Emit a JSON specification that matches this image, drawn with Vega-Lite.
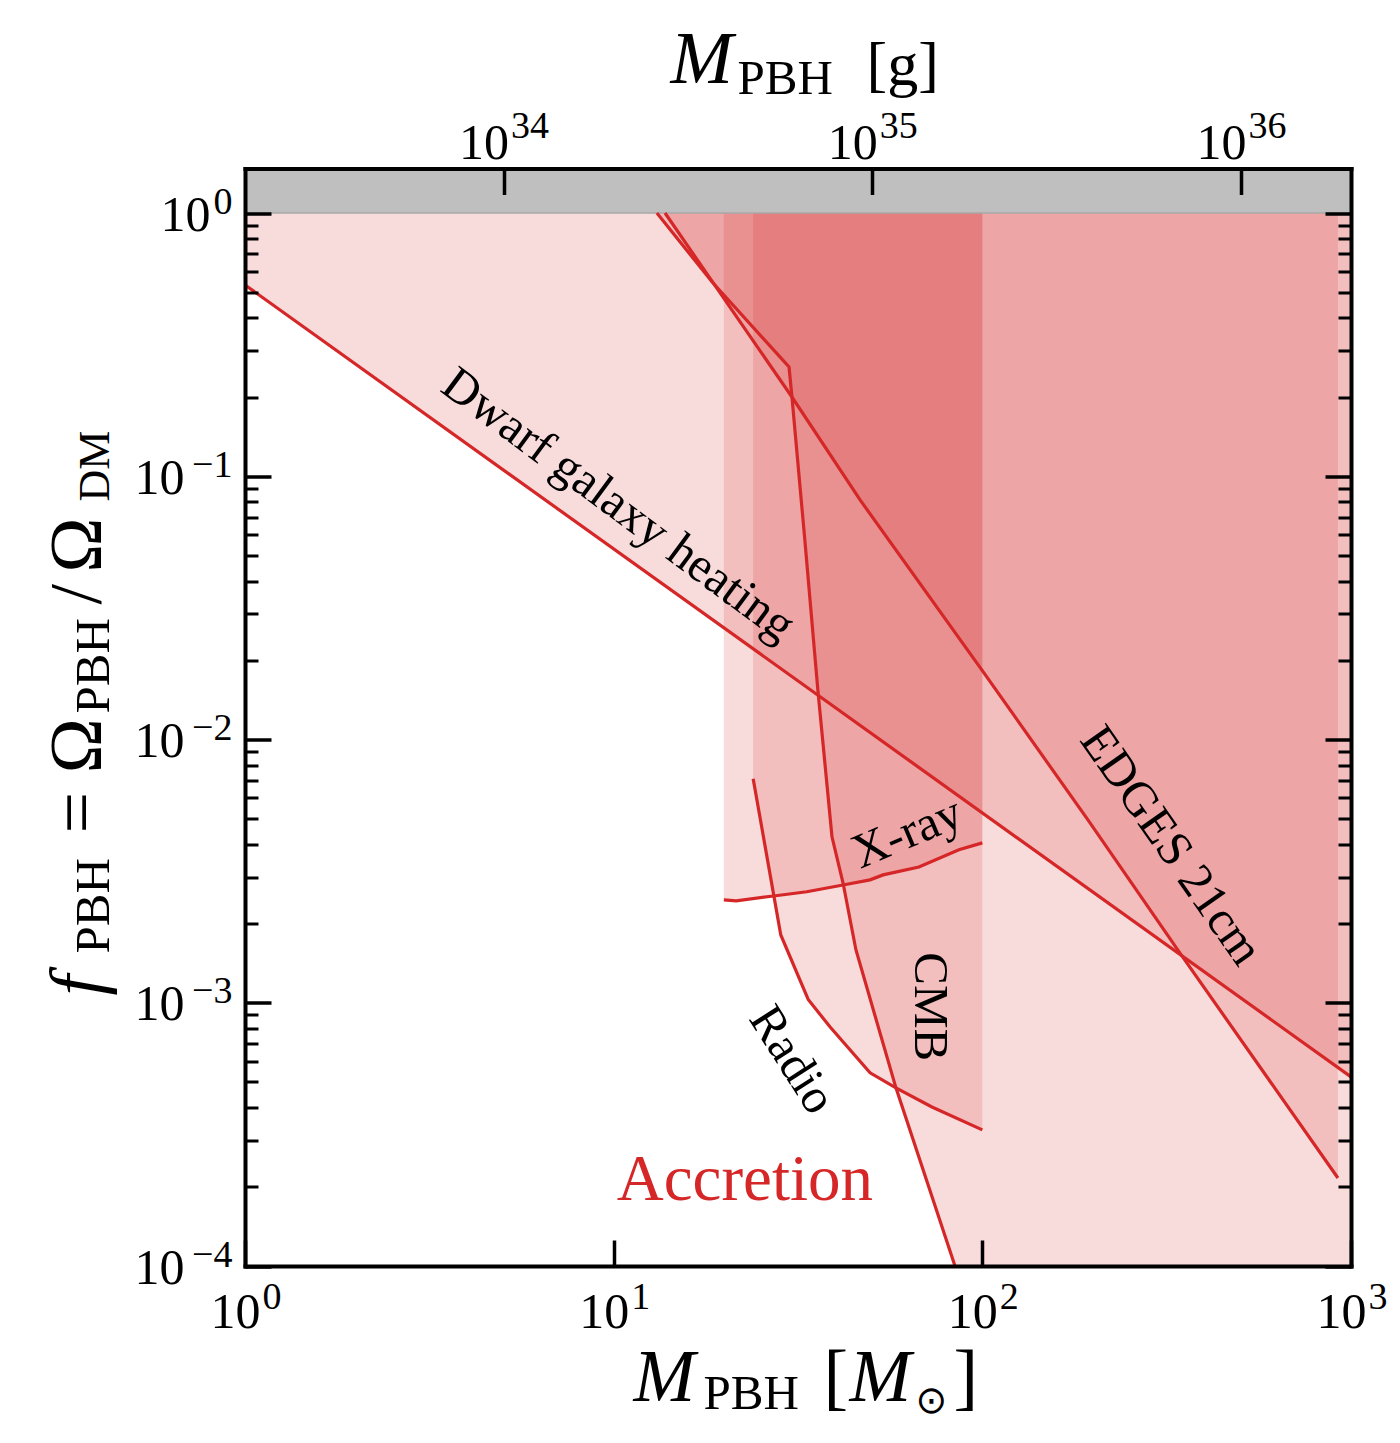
{
  "$schema": "https://vega.github.io/schema/vega-lite/v6.json",
  "width": 1106,
  "height": 1097.5,
  "autosize": {"type": "none"},
  "padding": {"left": 245, "top": 168.5, "right": 49, "bottom": 177},
  "background": "white",
  "config": {"view": {"stroke": null}},
  "data": {"values": [{}]},
  "datasets": {
    "dwarf": [{"M": 1, "f": 0.533}, {"M": 1000, "f": 0.000523}],
    "xray": [
      {"M": 19.9, "f": 0.00246}, {"M": 21.5, "f": 0.00244}, {"M": 27.5, "f": 0.00255},
      {"M": 33.4, "f": 0.00264}, {"M": 41.9, "f": 0.0028}, {"M": 49.6, "f": 0.00293},
      {"M": 53.8, "f": 0.00306}, {"M": 67.3, "f": 0.00328}, {"M": 86.4, "f": 0.00381},
      {"M": 100, "f": 0.00405}
    ],
    "radio": [
      {"M": 23.9, "f": 0.00709}, {"M": 28.4, "f": 0.00181}, {"M": 33.7, "f": 0.00103},
      {"M": 38.6, "f": 0.00081}, {"M": 49.6, "f": 0.000542}, {"M": 58.3, "f": 0.000475},
      {"M": 73.0, "f": 0.000402}, {"M": 100, "f": 0.000329}
    ],
    "cmb": [
      {"M": 13.1, "f": 1}, {"M": 18.5, "f": 0.547}, {"M": 29.9, "f": 0.26},
      {"M": 30.45, "f": 0.2}, {"M": 33.0, "f": 0.0573}, {"M": 35.8, "f": 0.0154},
      {"M": 39.1, "f": 0.00427}, {"M": 41.9, "f": 0.00285}, {"M": 45.4, "f": 0.00159},
      {"M": 58.3, "f": 0.000475}, {"M": 84.3, "f": 0.0001}, {"M": 1000, "f": 0.0001}
    ],
    "edges": [
      {"M": 13.78, "f": 1}, {"M": 30.45, "f": 0.2}, {"M": 46.6, "f": 0.0813},
      {"M": 101, "f": 0.0179}, {"M": 193.4, "f": 0.00495}, {"M": 347.8, "f": 0.001507},
      {"M": 921.5, "f": 0.000216}
    ],
    "lab_dwarf": [{"label": "Dwarf galaxy heating", "M": 10.3, "f": 0.078}],
    "lab_xray": [{"label": "X-ray", "M": 62.5, "f": 0.00442}],
    "lab_edges": [{"label": "EDGES 21cm", "M": 325, "f": 0.00395}],
    "lab_cmb": [{"label": "CMB", "M": 72.1, "f": 0.000965}],
    "lab_radio": [{"label": "Radio", "M": 30.5, "f": 0.000607}],
    "lab_acc": [{"label": "Accretion", "M": 22.7, "f": 0.000212}]
  },
  "resolve": {"axis": {"x": "independent", "y": "independent"}},
  "layer": [
    {
      "mark": {"type": "rect", "color": "#bfbfbf"},
      "encoding": {
        "x": {"datum": 1, "type": "quantitative", "scale": {"type": "log", "domain": [1, 1000], "nice": false},
          "axis": {"orient": "bottom", "values": [1, 10, 100, 1000], "labelExpr": "'10'",
            "tickSize": -26, "tickWidth": 3.5, "tickColor": "black", "domainWidth": 4, "domainColor": "black", "domainCap": "square",
            "labelFont": "Liberation Serif", "labelFontSize": 50, "labelColor": "black", "labelBaseline": "alphabetic", "labelAlign": "right",
            "labelOffset": 15, "labelPadding": 87, "labelFlush": false, "labelOverlap": false, "labelBound": false, "grid": false, "title": null, "zindex": 2}},
        "x2": {"datum": 1000},
        "y": {"datum": 1, "type": "quantitative", "scale": {"type": "log", "domain": [0.0001, 1.476], "nice": false},
          "axis": {"orient": "left", "values": [0.0001, 0.001, 0.01, 0.1, 1],
            "labelExpr": "datum.value > 0.5 ? '10' : ''",
            "tickSize": -26, "tickWidth": 3.5, "tickColor": "black", "domainWidth": 4, "domainColor": "black", "domainCap": "square",
            "labelFont": "Liberation Serif", "labelFontSize": 50, "labelColor": "black", "labelBaseline": "middle", "labelAlign": "right",
            "labelOffset": 2, "labelPadding": 61, "labelFlush": false, "labelOverlap": false, "labelBound": false, "grid": false, "title": null, "zindex": 2}},
        "y2": {"datum": 1.476}
      }
    },
    {
      "data": {"name": "dwarf"},
      "mark": {"type": "area", "color": "#d62728", "opacity": 0.16},
      "encoding": {
        "x": {"field": "M", "type": "quantitative", "scale": {"type": "log", "domain": [1, 1000], "nice": false},
          "axis": {"orient": "top", "values": [5.0277, 50.277, 502.77], "labelExpr": "'10'",
            "tickSize": -26, "tickWidth": 3.5, "tickColor": "black", "domainWidth": 4, "domainColor": "black", "domainCap": "square",
            "labelFont": "Liberation Serif", "labelFontSize": 50, "labelColor": "black", "labelBaseline": "alphabetic", "labelAlign": "right",
            "labelOffset": 5, "labelPadding": 36, "labelFlush": false, "labelOverlap": false, "labelBound": false, "grid": false, "title": null, "zindex": 2}},
        "y": {"field": "f", "type": "quantitative", "scale": {"type": "log", "domain": [0.0001, 1.476], "nice": false},
          "axis": {"orient": "right", "values": [0.0001, 0.001, 0.01, 0.1, 1], "labels": false,
            "tickSize": -26, "tickWidth": 3.5, "tickColor": "black", "domainWidth": 4, "domainColor": "black", "domainCap": "square",
            "grid": false, "title": null, "zindex": 2}},
        "y2": {"datum": 1}
      }
    },
    {
      "data": {"name": "xray"},
      "mark": {"type": "area", "color": "#d62728", "opacity": 0.16},
      "encoding": {
        "x": {"field": "M", "type": "quantitative", "scale": {"type": "log", "domain": [1, 1000], "nice": false},
          "axis": {"orient": "bottom", "values": [1, 10, 100, 1000], "ticks": false, "domain": false, "grid": false, "title": null,
            "labelExpr": "datum.value < 5 ? '0' : datum.value < 50 ? '1' : datum.value < 500 ? '2' : '3'",
            "labelFont": "Liberation Serif", "labelFontSize": 38, "labelColor": "black", "labelBaseline": "alphabetic", "labelAlign": "left",
            "labelOffset": 17, "labelPadding": 42, "labelFlush": false, "labelOverlap": false, "labelBound": false, "zindex": 2}},
        "y": {"field": "f", "type": "quantitative", "scale": {"type": "log", "domain": [0.0001, 1.476], "nice": false},
          "axis": {"orient": "left", "values": [0.0002, 0.0003, 0.0004, 0.0005, 0.0006, 0.0007, 0.0008, 0.0009, 0.002, 0.003, 0.004, 0.005, 0.006, 0.007, 0.008, 0.009, 0.02, 0.03, 0.04, 0.05, 0.06, 0.07, 0.08, 0.09, 0.2, 0.3, 0.4, 0.5, 0.6, 0.7, 0.8, 0.9],
            "labels": false, "domain": false, "tickSize": -13, "tickWidth": 3, "tickColor": "black", "grid": false, "title": null, "zindex": 2}},
        "y2": {"datum": 1}
      }
    },
    {
      "data": {"name": "radio"},
      "mark": {"type": "area", "color": "#d62728", "opacity": 0.16},
      "encoding": {
        "x": {"field": "M", "type": "quantitative", "scale": {"type": "log", "domain": [1, 1000], "nice": false},
          "axis": {"orient": "top", "values": [5.0277, 50.277, 502.77], "ticks": false, "domain": false, "grid": false, "title": null,
            "labelExpr": "datum.value < 10 ? '34' : datum.value < 100 ? '35' : '36'",
            "labelFont": "Liberation Serif", "labelFontSize": 38, "labelColor": "black", "labelBaseline": "alphabetic", "labelAlign": "left",
            "labelOffset": 7, "labelPadding": 31, "labelFlush": false, "labelOverlap": false, "labelBound": false, "zindex": 2}},
        "y": {"field": "f", "type": "quantitative", "scale": {"type": "log", "domain": [0.0001, 1.476], "nice": false},
          "axis": {"orient": "right", "values": [0.0002, 0.0003, 0.0004, 0.0005, 0.0006, 0.0007, 0.0008, 0.0009, 0.002, 0.003, 0.004, 0.005, 0.006, 0.007, 0.008, 0.009, 0.02, 0.03, 0.04, 0.05, 0.06, 0.07, 0.08, 0.09, 0.2, 0.3, 0.4, 0.5, 0.6, 0.7, 0.8, 0.9],
            "labels": false, "domain": false, "tickSize": -13, "tickWidth": 3, "tickColor": "black", "grid": false, "title": null, "zindex": 2}},
        "y2": {"datum": 1}
      }
    },
    {
      "data": {"name": "cmb"},
      "mark": {"type": "area", "color": "#d62728", "opacity": 0.16},
      "encoding": {
        "x": {"field": "M", "type": "quantitative", "scale": {"type": "log", "domain": [1, 1000], "nice": false},
          "axis": {"orient": "bottom", "ticks": false, "labels": false, "domain": false, "grid": false,
            "title": "M", "titleFont": "Liberation Serif", "titleFontSize": 74, "titleFontStyle": "italic", "titleFontWeight": "normal",
            "titleColor": "black", "titleX": 388, "titleY": 134, "titleAlign": "left", "titleBaseline": "alphabetic", "titleAngle": 0}},
        "y": {"field": "f", "type": "quantitative", "scale": {"type": "log", "domain": [0.0001, 1.476], "nice": false},
          "axis": {"orient": "left", "values": [0.0001, 0.001, 0.01, 0.1, 1], "ticks": false, "domain": false, "grid": false, "title": null,
            "labelExpr": "datum.value > 0.5 ? '0' : datum.value > 0.05 ? '\u22121' : datum.value > 0.005 ? '\u22122' : datum.value > 0.0005 ? '\u22123' : '\u22124'",
            "labelFont": "Liberation Serif", "labelFontSize": 38, "labelColor": "black", "labelBaseline": "middle", "labelAlign": "right",
            "labelOffset": -11, "labelPadding": 13, "labelFlush": false, "labelOverlap": false, "labelBound": false, "zindex": 2}},
        "y2": {"datum": 1}
      }
    },
    {
      "data": {"name": "edges"},
      "mark": {"type": "area", "color": "#d62728", "opacity": 0.16},
      "encoding": {
        "x": {"field": "M", "type": "quantitative", "scale": {"type": "log", "domain": [1, 1000], "nice": false},
          "axis": {"orient": "bottom", "ticks": false, "labels": false, "domain": false, "grid": false,
            "title": "PBH", "titleFont": "Liberation Serif", "titleFontSize": 49, "titleFontStyle": "normal", "titleFontWeight": "normal",
            "titleColor": "black", "titleX": 458, "titleY": 142, "titleAlign": "left", "titleBaseline": "alphabetic", "titleAngle": 0}},
        "y": {"field": "f", "type": "quantitative", "scale": {"type": "log", "domain": [0.0001, 1.476], "nice": false},
          "axis": {"orient": "left", "ticks": false, "labels": false, "domain": false, "grid": false,
            "title": "f", "titleFont": "Liberation Serif", "titleFontSize": 74, "titleFontStyle": "italic", "titleFontWeight": "normal",
            "titleColor": "black", "titleX": -145, "titleY": 826.5, "titleAlign": "left", "titleBaseline": "alphabetic", "titleAngle": -90}},
        "y2": {"datum": 1}
      }
    },
    {
      "mark": {"type": "rule", "color": "#a8a8a8", "strokeWidth": 1.5},
      "encoding": {
        "y": {"datum": 1, "type": "quantitative", "scale": {"type": "log", "domain": [0.0001, 1.476], "nice": false},
          "axis": {"orient": "left", "ticks": false, "labels": false, "domain": false, "grid": false,
            "title": "PBH", "titleFont": "Liberation Serif", "titleFontSize": 49, "titleFontStyle": "normal", "titleFontWeight": "normal",
            "titleColor": "black", "titleX": -137, "titleY": 784.5, "titleAlign": "left", "titleBaseline": "alphabetic", "titleAngle": -90}}
      }
    },
    {
      "data": {"name": "dwarf"},
      "mark": {"type": "line", "color": "#d62728", "strokeWidth": 3.2},
      "encoding": {
        "x": {"field": "M", "type": "quantitative", "scale": {"type": "log", "domain": [1, 1000], "nice": false},
          "axis": {"orient": "bottom", "ticks": false, "labels": false, "domain": false, "grid": false,
            "title": "[", "titleFont": "Liberation Serif", "titleFontSize": 74, "titleFontStyle": "normal", "titleFontWeight": "normal",
            "titleColor": "black", "titleX": 578, "titleY": 134, "titleAlign": "left", "titleBaseline": "alphabetic", "titleAngle": 0}},
        "y": {"field": "f", "type": "quantitative", "scale": {"type": "log", "domain": [0.0001, 1.476], "nice": false},
          "axis": {"orient": "left", "ticks": false, "labels": false, "domain": false, "grid": false,
            "title": "= Ω", "titleFont": "Liberation Serif", "titleFontSize": 74, "titleFontStyle": "normal", "titleFontWeight": "normal",
            "titleColor": "black", "titleX": -145, "titleY": 664.5, "titleAlign": "left", "titleBaseline": "alphabetic", "titleAngle": -90}}
      }
    },
    {
      "data": {"name": "xray"},
      "mark": {"type": "line", "color": "#d62728", "strokeWidth": 3.2},
      "encoding": {
        "x": {"field": "M", "type": "quantitative", "scale": {"type": "log", "domain": [1, 1000], "nice": false},
          "axis": {"orient": "bottom", "ticks": false, "labels": false, "domain": false, "grid": false,
            "title": "M", "titleFont": "Liberation Serif", "titleFontSize": 74, "titleFontStyle": "italic", "titleFontWeight": "normal",
            "titleColor": "black", "titleX": 604, "titleY": 134, "titleAlign": "left", "titleBaseline": "alphabetic", "titleAngle": 0}},
        "y": {"field": "f", "type": "quantitative", "scale": {"type": "log", "domain": [0.0001, 1.476], "nice": false},
          "axis": {"orient": "left", "ticks": false, "labels": false, "domain": false, "grid": false,
            "title": "PBH", "titleFont": "Liberation Serif", "titleFontSize": 49, "titleFontStyle": "normal", "titleFontWeight": "normal",
            "titleColor": "black", "titleX": -137, "titleY": 544.5, "titleAlign": "left", "titleBaseline": "alphabetic", "titleAngle": -90}}
      }
    },
    {
      "data": {"name": "radio"},
      "mark": {"type": "line", "color": "#d62728", "strokeWidth": 3.2},
      "encoding": {
        "x": {"field": "M", "type": "quantitative", "scale": {"type": "log", "domain": [1, 1000], "nice": false},
          "axis": {"orient": "bottom", "ticks": false, "labels": false, "domain": false, "grid": false,
            "title": "⊙", "titleFont": "DejaVu Sans", "titleFontSize": 38, "titleFontStyle": "normal", "titleFontWeight": "normal",
            "titleColor": "black", "titleX": 670, "titleY": 146, "titleAlign": "left", "titleBaseline": "alphabetic", "titleAngle": 0}},
        "y": {"field": "f", "type": "quantitative", "scale": {"type": "log", "domain": [0.0001, 1.476], "nice": false},
          "axis": {"orient": "left", "ticks": false, "labels": false, "domain": false, "grid": false,
            "title": "/", "titleFont": "Liberation Serif", "titleFontSize": 74, "titleFontStyle": "normal", "titleFontWeight": "normal",
            "titleColor": "black", "titleX": -145, "titleY": 435.5, "titleAlign": "left", "titleBaseline": "alphabetic", "titleAngle": -90}}
      }
    },
    {
      "data": {"name": "cmb"},
      "transform": [{"filter": "datum.M < 500"}],
      "mark": {"type": "line", "color": "#d62728", "strokeWidth": 3.2},
      "encoding": {
        "x": {"field": "M", "type": "quantitative", "scale": {"type": "log", "domain": [1, 1000], "nice": false},
          "axis": {"orient": "bottom", "ticks": false, "labels": false, "domain": false, "grid": false,
            "title": "]", "titleFont": "Liberation Serif", "titleFontSize": 74, "titleFontStyle": "normal", "titleFontWeight": "normal",
            "titleColor": "black", "titleX": 708, "titleY": 134, "titleAlign": "left", "titleBaseline": "alphabetic", "titleAngle": 0}},
        "y": {"field": "f", "type": "quantitative", "scale": {"type": "log", "domain": [0.0001, 1.476], "nice": false},
          "axis": {"orient": "left", "ticks": false, "labels": false, "domain": false, "grid": false,
            "title": "Ω", "titleFont": "Liberation Serif", "titleFontSize": 74, "titleFontStyle": "normal", "titleFontWeight": "normal",
            "titleColor": "black", "titleX": -145, "titleY": 403.5, "titleAlign": "left", "titleBaseline": "alphabetic", "titleAngle": -90}}
      }
    },
    {
      "data": {"name": "edges"},
      "mark": {"type": "line", "color": "#d62728", "strokeWidth": 3.2},
      "encoding": {
        "x": {"field": "M", "type": "quantitative", "scale": {"type": "log", "domain": [1, 1000], "nice": false},
          "axis": {"orient": "top", "ticks": false, "labels": false, "domain": false, "grid": false,
            "title": "M", "titleFont": "Liberation Serif", "titleFontSize": 75, "titleFontStyle": "italic", "titleFontWeight": "normal",
            "titleColor": "black", "titleX": 425, "titleY": -86, "titleAlign": "left", "titleBaseline": "alphabetic", "titleAngle": 0}},
        "y": {"field": "f", "type": "quantitative", "scale": {"type": "log", "domain": [0.0001, 1.476], "nice": false},
          "axis": {"orient": "left", "ticks": false, "labels": false, "domain": false, "grid": false,
            "title": "DM", "titleFont": "Liberation Serif", "titleFontSize": 44, "titleFontStyle": "normal", "titleFontWeight": "normal",
            "titleColor": "black", "titleX": -137, "titleY": 332.5, "titleAlign": "left", "titleBaseline": "alphabetic", "titleAngle": -90}}
      }
    },
    {
      "data": {"name": "lab_dwarf"},
      "mark": {"type": "text", "angle": 36.5, "font": "Liberation Serif", "fontSize": 49, "color": "black", "align": "center", "baseline": "middle"},
      "encoding": {
        "x": {"field": "M", "type": "quantitative", "scale": {"type": "log", "domain": [1, 1000], "nice": false},
          "axis": {"orient": "top", "ticks": false, "labels": false, "domain": false, "grid": false,
            "title": "PBH", "titleFont": "Liberation Serif", "titleFontSize": 49, "titleFontStyle": "normal", "titleFontWeight": "normal",
            "titleColor": "black", "titleX": 492, "titleY": -75, "titleAlign": "left", "titleBaseline": "alphabetic", "titleAngle": 0}},
        "y": {"field": "f", "type": "quantitative", "scale": {"type": "log", "domain": [0.0001, 1.476], "nice": false}, "axis": null},
        "text": {"field": "label"}
      }
    },
    {
      "data": {"name": "lab_xray"},
      "mark": {"type": "text", "angle": 337, "font": "Liberation Serif", "fontSize": 49, "color": "black", "align": "center", "baseline": "middle"},
      "encoding": {
        "x": {"field": "M", "type": "quantitative", "scale": {"type": "log", "domain": [1, 1000], "nice": false},
          "axis": {"orient": "top", "ticks": false, "labels": false, "domain": false, "grid": false,
            "title": "[g]", "titleFont": "Liberation Serif", "titleFontSize": 62, "titleFontStyle": "normal", "titleFontWeight": "normal",
            "titleColor": "black", "titleX": 621, "titleY": -84, "titleAlign": "left", "titleBaseline": "alphabetic", "titleAngle": 0}},
        "y": {"field": "f", "type": "quantitative", "scale": {"type": "log", "domain": [0.0001, 1.476], "nice": false}, "axis": null},
        "text": {"field": "label"}
      }
    },
    {
      "data": {"name": "lab_edges"},
      "mark": {"type": "text", "angle": 55, "font": "Liberation Serif", "fontSize": 49, "color": "black", "align": "center", "baseline": "middle"},
      "encoding": {
        "x": {"field": "M", "type": "quantitative", "scale": {"type": "log", "domain": [1, 1000], "nice": false}, "axis": null},
        "y": {"field": "f", "type": "quantitative", "scale": {"type": "log", "domain": [0.0001, 1.476], "nice": false},
          "axis": {"orient": "left", "values": [0.0001, 0.001, 0.01, 0.1], "ticks": false, "domain": false, "grid": false, "title": null,
            "labelExpr": "'10'",
            "labelFont": "Liberation Serif", "labelFontSize": 50, "labelColor": "black", "labelBaseline": "middle", "labelAlign": "right",
            "labelOffset": 2, "labelPadding": 61, "labelFlush": false, "labelOverlap": false, "labelBound": false, "zindex": 2}},
        "text": {"field": "label"}
      }
    },
    {
      "data": {"name": "lab_cmb"},
      "mark": {"type": "text", "angle": 90, "font": "Liberation Serif", "fontSize": 49, "color": "black", "align": "center", "baseline": "middle"},
      "encoding": {
        "x": {"field": "M", "type": "quantitative", "scale": {"type": "log", "domain": [1, 1000], "nice": false}, "axis": null},
        "y": {"field": "f", "type": "quantitative", "scale": {"type": "log", "domain": [0.0001, 1.476], "nice": false}, "axis": null},
        "text": {"field": "label"}
      }
    },
    {
      "data": {"name": "lab_radio"},
      "mark": {"type": "text", "angle": 57.5, "font": "Liberation Serif", "fontSize": 49, "color": "black", "align": "center", "baseline": "middle"},
      "encoding": {
        "x": {"field": "M", "type": "quantitative", "scale": {"type": "log", "domain": [1, 1000], "nice": false}, "axis": null},
        "y": {"field": "f", "type": "quantitative", "scale": {"type": "log", "domain": [0.0001, 1.476], "nice": false}, "axis": null},
        "text": {"field": "label"}
      }
    },
    {
      "data": {"name": "lab_acc"},
      "mark": {"type": "text", "font": "Liberation Serif", "fontSize": 65, "color": "#d62728", "align": "center", "baseline": "middle"},
      "encoding": {
        "x": {"field": "M", "type": "quantitative", "scale": {"type": "log", "domain": [1, 1000], "nice": false}, "axis": null},
        "y": {"field": "f", "type": "quantitative", "scale": {"type": "log", "domain": [0.0001, 1.476], "nice": false}, "axis": null},
        "text": {"field": "label"}
      }
    }
  ]
}
